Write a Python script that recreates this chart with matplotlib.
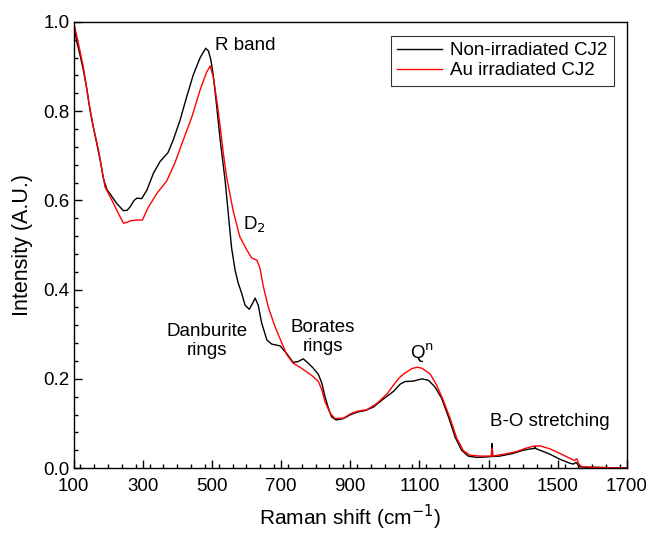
import matplotlib
matplotlib.use("Agg")
import matplotlib.pyplot as plt
from matplotlib.ticker import MultipleLocator

plt.rcParams['font.family'] = ['Liberation Sans', 'DejaVu Sans']

x_black = [100, 109, 119, 128, 138, 148, 157, 167, 177, 186, 196, 206, 225, 244, 255, 263, 275, 283, 297,
           312, 331, 350, 373, 388, 408, 427, 446, 466, 482, 490, 497, 504, 514, 524, 538, 557, 567, 576,
           586, 596, 608, 618, 625, 634, 644, 659, 673, 697, 716, 735, 750, 764, 779, 793, 808, 818, 827,
           837, 846, 859, 880, 904, 923, 943, 967, 996, 1025, 1044, 1058, 1082, 1107, 1126, 1145, 1164,
           1184, 1203, 1222, 1241, 1266, 1295, 1308, 1310, 1312, 1333, 1371, 1400, 1420, 1432, 1434, 1436,
           1449, 1478, 1506, 1535, 1545, 1553, 1560, 1564, 1593, 1650, 1700]
y_black = [1.0, 0.956, 0.925, 0.893, 0.852, 0.800, 0.765, 0.728, 0.690, 0.650, 0.625, 0.614, 0.593, 0.577,
           0.578, 0.585, 0.600, 0.605, 0.604, 0.623, 0.661, 0.687, 0.707, 0.735, 0.780, 0.832, 0.881, 0.920,
           0.941, 0.935, 0.915, 0.880, 0.810, 0.735, 0.646, 0.493, 0.444, 0.415, 0.392, 0.365, 0.356, 0.370,
           0.381, 0.365, 0.325, 0.287, 0.278, 0.274, 0.257, 0.237, 0.239, 0.245, 0.235, 0.224, 0.210, 0.190,
           0.160, 0.134, 0.115, 0.108, 0.111, 0.121, 0.126, 0.129, 0.137, 0.155, 0.172, 0.188, 0.194, 0.195,
           0.200, 0.197, 0.182, 0.157, 0.115, 0.070, 0.040, 0.027, 0.024, 0.025, 0.026, 0.055, 0.026, 0.027,
           0.033, 0.040, 0.043, 0.044, 0.049, 0.044, 0.040, 0.031, 0.020, 0.011, 0.009, 0.013, 0.006, 0.003,
           0.002, 0.001, 0.0]

x_red = [100, 114, 128, 143, 157, 172, 191, 206, 225, 244, 255, 263, 283, 299, 315, 341, 369, 393, 417, 442,
         466, 485, 495, 504, 514, 524, 533, 543, 562, 581, 601, 615, 630, 639, 649, 663, 683, 697, 716, 735,
         755, 774, 793, 808, 818, 827, 842, 856, 880, 904, 923, 948, 977, 1006, 1025, 1039, 1054, 1078, 1093,
         1107, 1131, 1150, 1169, 1189, 1208, 1227, 1246, 1275, 1304, 1308, 1310, 1312, 1343, 1381, 1405,
         1429, 1449, 1478, 1506, 1535, 1548, 1555, 1562, 1570, 1593, 1650, 1700]
y_red = [1.0, 0.952, 0.900, 0.825, 0.765, 0.713, 0.630, 0.608, 0.578, 0.549, 0.551, 0.554, 0.556, 0.556,
         0.583, 0.616, 0.643, 0.684, 0.735, 0.787, 0.848, 0.888, 0.901, 0.877, 0.825, 0.765, 0.706, 0.650,
         0.575, 0.518, 0.489, 0.471, 0.466, 0.448, 0.406, 0.361, 0.316, 0.290, 0.255, 0.235, 0.226, 0.216,
         0.205, 0.194, 0.175, 0.149, 0.123, 0.111, 0.112, 0.123, 0.128, 0.131, 0.145, 0.166, 0.186, 0.200,
         0.211, 0.223, 0.226, 0.224, 0.211, 0.186, 0.152, 0.111, 0.067, 0.039, 0.029, 0.027, 0.027, 0.027,
         0.045, 0.027, 0.031, 0.037, 0.044, 0.049, 0.050, 0.043, 0.033, 0.022, 0.017, 0.021, 0.008, 0.003,
         0.002, 0.001, 0.0]

series_labels = ["Non-irradiated CJ2", "Au irradiated CJ2"]
x_ticks = [100, 300, 500, 700, 900, 1100, 1300, 1500, 1700]
y_ticks = [0.0, 0.2, 0.4, 0.6, 0.8, 1.0]

fig = plt.figure(figsize=(6.51, 5.35), dpi=100)
ax = fig.add_axes([0.113, 0.125, 0.850, 0.834])

ax.plot(x_black, y_black, color='black', lw=1.0, label=series_labels[0])
ax.plot(x_red, y_red, color='red', lw=1.0, label=series_labels[1])

ax.set_xlim(100, 1700)
ax.set_ylim(0, 1.0)
ax.set_xticks(x_ticks)
ax.set_yticks(y_ticks)
ax.set_yticklabels([f"{v:.1f}" for v in y_ticks])
ax.xaxis.set_minor_locator(MultipleLocator(40))
ax.yaxis.set_minor_locator(MultipleLocator(0.04))
ax.tick_params(which='both', direction='in', top=False, right=False, labelsize=13.5, width=1.0)
ax.tick_params(which='major', length=6)
ax.tick_params(which='minor', length=3)
ax.tick_params(axis='x', which='major', pad=7)
ax.tick_params(axis='y', which='major', pad=3)
for s in ax.spines.values():
    s.set_linewidth(1.0)

ax.set_xlabel("Raman shift (cm$^{-1}$)", fontsize=15, labelpad=6)
ax.set_ylabel("Intensity (A.U.)", fontsize=15.5, labelpad=7)

ax.text(509, 0.948, "R band", fontsize=13.5, ha='left', va='center')
ax.text(590, 0.545, "D$_2$", fontsize=13.5, ha='left', va='center')
ax.text(486, 0.285, "Danburite\nrings", fontsize=13.5, ha='center', va='center', linespacing=1.15)
ax.text(821, 0.293, "Borates\nrings", fontsize=13.5, ha='center', va='center', linespacing=1.15)
ax.text(1107, 0.257, "Q$^{\\mathrm{n}}$", fontsize=13.5, ha='center', va='center')
ax.text(1478, 0.105, "B-O stretching", fontsize=13.5, ha='center', va='center')

leg = ax.legend(loc='upper right', bbox_to_anchor=(0.976, 0.969), borderaxespad=0, fontsize=13.5,
                frameon=True, fancybox=False, handlelength=2.4, handletextpad=0.4,
                borderpad=0.35, labelspacing=0.15)
leg.get_frame().set_edgecolor('black')
leg.get_frame().set_linewidth(0.8)

fig.savefig("out.png", dpi=100)
